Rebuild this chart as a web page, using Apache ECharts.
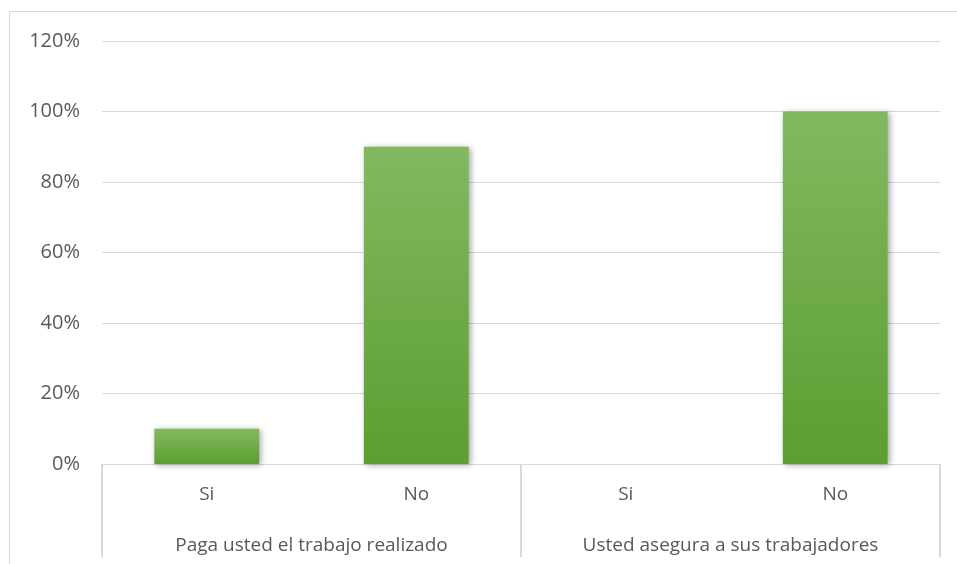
<!DOCTYPE html>
<html><head><meta charset="utf-8">
<script src="https://cdn.jsdelivr.net/npm/echarts@6/dist/echarts.min.js"></script>
<style>html,body{margin:0;padding:0;background:#fff}#c{width:957px;height:564px}</style>
</head><body><div id="c"></div>
<script>
const categories = ['Si', 'No', 'Si', 'No'];
const groups = ['Paga usted el trabajo realizado', 'Usted asegura a sus trabajadores'];
const values = [10, 90, 0, 100];
const yTicks = [0, 20, 40, 60, 80, 100, 120];

const chart = echarts.init(document.getElementById('c'));
const font = 'Open Sans';
chart.setOption({
  animation: false,
  graphic: [{
    type: 'rect', shape: {x: 9.5, y: 11.5, width: 1000, height: 1000},
    style: {fill: 'none', stroke: '#d9d9d9', lineWidth: 1}, silent: true, z: -10
  }],
  grid: {left: 102, right: 17, top: 41, bottom: 100},
  xAxis: [{
    type: 'category', data: categories, position: 'bottom',
    axisLine: {show: true, lineStyle: {color: '#d9d9d9', width: 1}},
    axisTick: {show: false},
    axisLabel: {color: '#595959', fontFamily: font, fontSize: 19, margin: 21}
  }, {
    type: 'category', data: groups, position: 'bottom',
    axisLine: {show: false},
    axisTick: {show: true, alignWithLabel: false, length: 93, lineStyle: {color: '#d9d9d9', width: 2}},
    axisLabel: {color: '#595959', fontFamily: font, fontSize: 19, margin: 72}
  }],
  yAxis: {
    type: 'value', min: 0, max: 120, interval: 20,
    axisLine: {show: false}, axisTick: {show: false},
    splitLine: {lineStyle: {color: '#d9d9d9', width: 1}},
    axisLabel: {color: '#595959', fontFamily: font, fontSize: 20, margin: 22,
      formatter: v => yTicks.includes(v) ? v + '%' : ''}
  },
  series: [{
    type: 'bar', data: values, xAxisIndex: 0, barWidth: '50%',
    itemStyle: {
      color: new echarts.graphic.LinearGradient(0, 0, 0, 1, [
        {offset: 0, color: '#81b960'}, {offset: 1, color: '#5c9e31'}
      ]),
      shadowColor: 'rgba(0,0,0,0.35)', shadowBlur: 6, shadowOffsetX: 2, shadowOffsetY: 1
    }
  }]
});
</script></body></html>
